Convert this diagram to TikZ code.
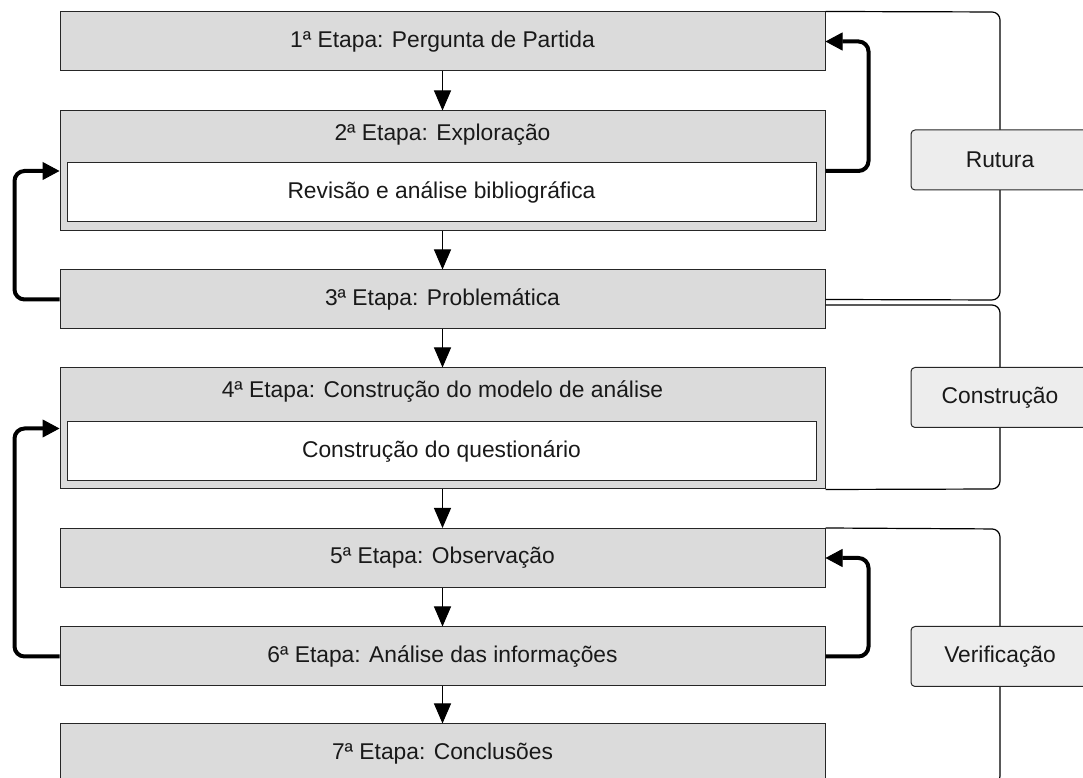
\documentclass[tikz,border=0pt]{standalone}
\usepackage{fontspec}
\setmainfont{Liberation Sans}
\usetikzlibrary{arrows.meta}
\tikzset {>=Stealth}
\definecolor{caixa}{gray}{0.86}
\definecolor{fase}{gray}{0.93}
\tikzset{
  etapa/.style={draw=black!85,line width=1pt,fill=caixa,minimum width=765pt,minimum height=59pt,inner sep=0pt},
  sub/.style={draw=black!85,line width=1pt,fill=white,minimum width=749pt,minimum height=59pt,inner sep=0pt},
  fasebox/.style={draw=black!85,line width=1pt,fill=fase,rounded corners=4pt,minimum width=178pt,minimum height=60pt,inner sep=0pt},
  seta/.style={line width=1pt,-{Triangle[length=20pt,width=17pt]}},
  volta/.style={line width=4pt,rounded corners=10pt,-{Triangle[length=17pt,width=18pt,line width=1pt]}},
  chave/.style={line width=1.2pt,rounded corners=8pt}
}

\begin{document}
\begin{tikzpicture}[x=1pt,y=1pt,font=\fontsize{22.8}{26}\selectfont,text=black!90]
\useasboundingbox (0,0) rectangle (1083,778);
% etapas
\node[etapa] (e1) at (442.5,736.5) {1ª Etapa: Pergunta de Partida};
\node[etapa,minimum height=120pt] (e2) at (442.5,607) {};
\node (t2) at (442.5,643) {2ª Etapa: Exploração};
\node[sub] (s2) at (441.5,585.5) {Revisão e análise bibliográfica};
\node[etapa] (e3) at (442.5,478.5) {3ª Etapa: Problemática};
\node[etapa,minimum height=121pt] (e4) at (442.5,349.5) {};
\node (t4) at (442.5,386) {4ª Etapa: Construção do modelo de análise};
\node[sub] (s4) at (441.5,326.5) {Construção do questionário};
\node[etapa] (e5) at (442.5,220) {5ª Etapa: Observação};
\node[etapa] (e6) at (442.5,121.5) {6ª Etapa: Análise das informações};
\node[etapa,minimum height=60pt] (e7) at (442.5,24) {7ª Etapa: Conclusões};
% setas
\draw[seta] (e1.south) -- (e2.north);
\draw[seta] (e2.south) -- (e3.north);
\draw[seta] (e3.south) -- (e4.north);
\draw[seta] (e4.south) -- (e5.north);
\draw[seta] (e5.south) -- (e6.north);
\draw[seta] (e6.south) -- (e7.north);
\draw[volta] (e2.east) -- ++(43,0) |- (e1.east);
\draw[volta] (e3.west) -- ++(-45,0) |- (e2.west);
\draw[volta] (e6.west) -- ++(-45,0) |- (e4.west);
\draw[volta] (e6.east) -- ++(43,0) |- (e5.east);
% chavetas
\draw[chave] (e1.north east) -- (1000,766) -- (1000,478) -- (e3.east);
\draw[chave] ([yshift=-5.5pt]e3.east) -- (1000,473) -- (1000,289) -- (e4.south east);
\draw[chave] (e5.north east) -- (1000,249) -- (1000,-6) -- (e7.south east);
\node[fasebox] (rut) at (1000,618) {Rutura};
\node[fasebox] (con) at (1000,380.5) {Construção};
\node[fasebox] (ver) at (1000,121.5) {Verificação};
\end{tikzpicture}
\end{document}
